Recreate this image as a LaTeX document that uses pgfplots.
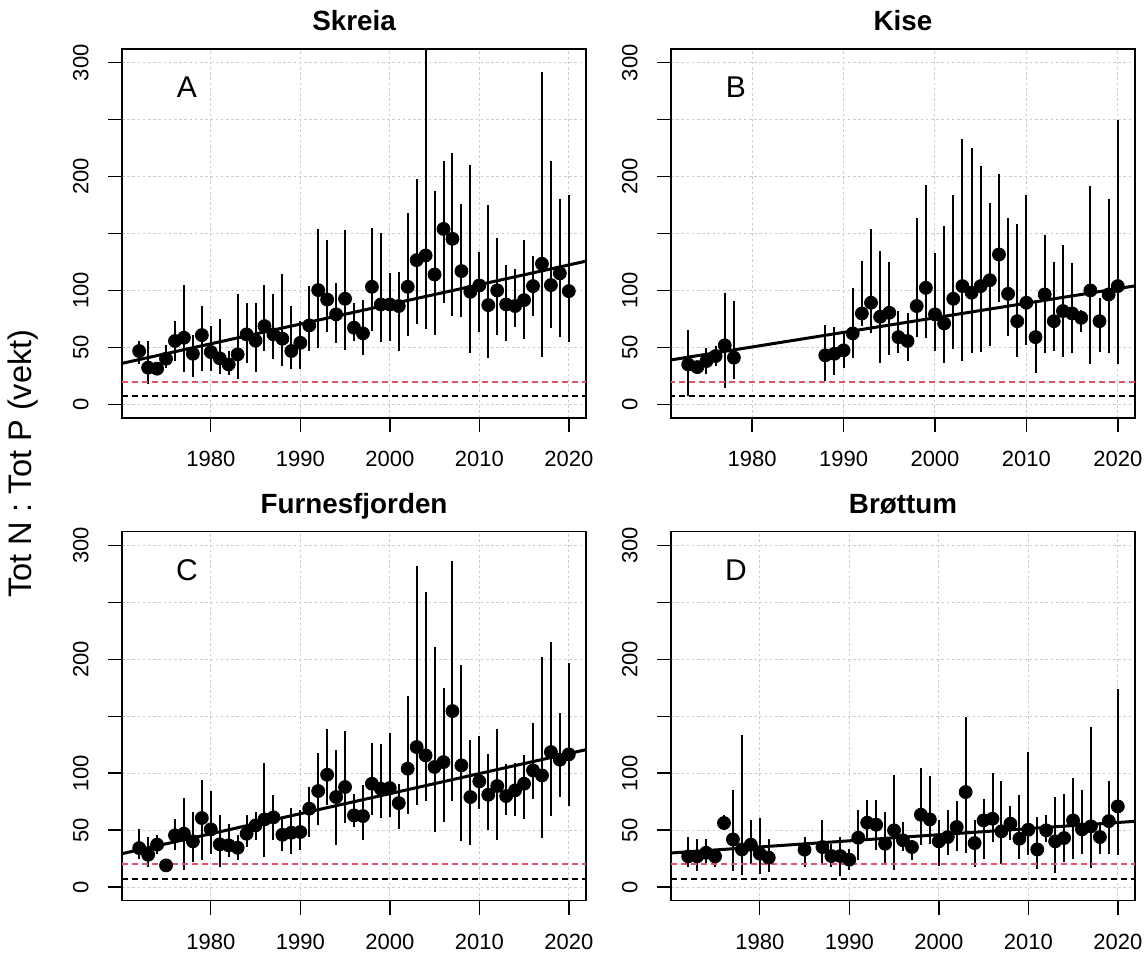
\documentclass[border=0pt]{standalone}
\usepackage{fontspec}
\setmainfont{Liberation Sans}
\usepackage{pgfplots}
\usepackage{pgfplotstable}
\pgfplotsset{compat=1.18}
\definecolor{rred}{HTML}{DF536B}

\pgfplotstableread{
yr v lo hi
1972 46.8 35 55.6
1973 32.2 17.5 55.6
1974 31.3 28 35
1975 40 32 51.8
1976 55.6 38 73
1977 58.5 28 105
1978 44.4 24 61
1979 60.8 29 86
1980 45.9 29 68.7
1981 40.4 27 74.6
1982 35 26 46.8
1983 43.9 22.5 96.5
1984 61.4 36.5 89
1985 56 28 89
1986 68.7 46.8 105
1987 61.4 40 96.5
1988 57.6 34 114
1989 46.8 30.7 86
1990 54 30.7 73
1991 69.3 46.8 104
1992 100.3 49.7 154
1993 92 63.5 144.7
1994 79 53.5 106.7
1995 92.7 48 153
1996 67.3 55.6 89
1997 62.3 43 92
1998 103.2 64.3 155
1999 87.7 54.7 150.6
2000 87.7 55.6 115.5
2001 86.3 46.8 116.4
2002 103.2 60 168
2003 126.6 70.8 198
2004 130.7 65.8 400
2005 114 60.5 187
2006 154 89 213.5
2007 145.3 77.5 220.8
2008 117 77 176
2009 98.8 44.7 210.5
2010 104.4 63.5 133.6
2011 87.1 41 174.9
2012 100 60.5 146
2013 87.7 55.6 122
2014 86.3 68 119
2015 91.5 57.6 143.9
2016 103.8 77.5 130
2017 123.4 41.5 292
2018 104.7 67.3 213.5
2019 115 59.4 180.4
2020 99.4 54.7 183.6
}\dataA

\pgfplotstableread{
yr v lo hi
1973 35 7.3 65
1974 32.7 30 35
1975 38 26.3 49.7
1976 42.4 33.6 51
1977 51.8 14.6 98
1978 41 22 90.6
1988 43 20.5 70
1989 44.4 25.4 68
1990 47.4 32 62.9
1991 62.3 41 102
1992 79.8 68.7 125.7
1993 89.2 62.9 154
1994 76.9 36 134.5
1995 80.4 43 124.9
1996 59 45 82
1997 55.6 38 80
1998 86.3 59 163.7
1999 102.3 58.5 193
2000 79 46.8 133
2001 71 36.5 157
2002 92.7 48.8 183.6
2003 103.8 38 233
2004 98 44.7 225
2005 103.8 46 209.6
2006 109 51 177
2007 131.6 89.8 202.6
2008 97 60 164
2009 73 41.5 158.5
2010 89.2 51.8 184
2011 59 27.8 89
2012 96.5 44.7 149
2013 73 46.8 125
2014 81.9 41.8 139.5
2015 79.8 45 124
2016 76 63.5 83
2017 100 35 192
2018 73 46 93.6
2019 96.5 45 180
2020 103.8 35 250
}\dataB

\pgfplotstableread{
yr v lo hi
1972 34.2 24.9 51.2
1973 28.4 17.6 43.9
1974 37.2 29.3 45.4
1975 19 19 19
1976 45.4 32.2 60
1977 46.8 14.6 78
1978 40.1 21.9 65.8
1979 60.6 23.4 93.6
1980 50.6 29.3 84
1981 37.5 17.6 62.9
1982 36.6 26.3 55.6
1983 34.5 23.4 45.4
1984 46.8 35.1 63.5
1985 54.1 41 65.8
1986 59.4 26.3 109
1987 61.2 41 81
1988 45.9 31.3 60
1989 47.7 29.3 69.4
1990 48.3 32.2 67.3
1991 68.8 43.9 87.8
1992 84.3 54.7 117.6
1993 98.6 72.3 138.4
1994 79 36.6 120
1995 87.8 56.5 137
1996 62.9 52.7 82
1997 62.3 41 89.3
1998 90.7 62.9 126.7
1999 86.3 60.6 125.8
2000 86.9 61.5 135.5
2001 73.7 50.6 90.7
2002 103.9 64.4 167.4
2003 122.9 72.3 281.8
2004 115.6 75.2 259
2005 105.4 48.3 210.7
2006 109.7 57 175
2007 154.5 75.2 285.9
2008 106.8 40 194.6
2009 79 37.2 128.8
2010 92.8 68.2 132.6
2011 81 49.8 117
2012 88.7 41.6 138.4
2013 79.9 62.9 108.3
2014 84.9 62.3 109.2
2015 90.7 60 115.6
2016 102.4 77.6 144.3
2017 98 43.3 201.9
2018 118.5 62.3 215
2019 111.8 79 152.8
2020 116.5 71.1 197
}\dataC

\pgfplotstableread{
yr v lo hi
1972 26.9 17.6 43.9
1973 26.9 13.8 41.8
1974 30.1 19 42.4
1975 26.9 17.6 32
1976 56.2 49.8 63
1977 41.8 13.8 85.5
1978 33 10.8 133.7
1979 37.2 20.5 58.5
1980 29.3 11.7 60.6
1981 25.8 13.2 42.4
1985 32.8 17.6 43.9
1987 35.1 20.5 58.5
1988 27.2 17.6 38
1989 27.2 9.4 43.9
1990 24 14.6 33.7
1991 43.3 23.4 67.3
1992 56.5 42.4 76
1993 54.7 32.2 76
1994 38 19 65.8
1995 49.8 14.6 98
1996 41 32 57
1997 35.1 23.4 41
1998 63.5 37.2 104.5
1999 59.4 38 97.5
2000 40.1 18.4 58.5
2001 43.9 27.8 67.9
2002 52.7 31.3 75.2
2003 83.4 30.1 149.3
2004 38.6 17.6 58.5
2005 58.5 24.9 77
2006 60 39.5 100.4
2007 48.9 20.5 92.8
2008 55.6 41 70.8
2009 42.4 24.9 81
2010 50.3 27.8 119
2011 33 16.1 61.5
2012 49.8 39.5 63.5
2013 40.1 12.6 79
2014 43 22 82
2015 58.5 24.9 95.7
2016 50.6 29.3 84.9
2017 53.3 16.7 140.5
2018 43.9 29.3 57
2019 57.9 29.3 92.8
2020 70.8 27.8 173.5
}\dataD

\pgfplotsset{
  panel/.style={
    scale only axis, width=232pt, height=184.5pt,
    anchor=south west,
    xmin=1970.08, xmax=2021.92,
    ymin=-12, ymax=312,
    axis line style={line width=0.7pt},
    every tick/.style={black, line width=0.7pt},
    tick align=outside, major tick length=7pt,
    xtick pos=lower, ytick pos=left,
    xtick={1980,1990,2000,2010,2020},
    xticklabels={1980,1990,2000,2010,2020},
    ytick={0,50,100,150,200,250,300},
    yticklabels={0,50,100,,200,,300},
    xticklabel style={font=\fontsize{11}{13}\selectfont, anchor=north, inner sep=0pt},
    yticklabel style={font=\fontsize{11}{13}\selectfont, rotate=90, anchor=south, inner sep=0pt},
    xticklabel shift=9.5pt,
    yticklabel shift=9.5pt,
    grid=major,
    grid style={gray!40, dash pattern=on 1.3pt off 1.3pt, line width=0.5pt},
    title style={font=\bfseries\fontsize{13.9}{16}\selectfont, at={(0.5,1)}, anchor=base, yshift=3.2pt},
  },
  pts/.style={black, only marks, mark=*, mark size=3.25pt,
    error bars/.cd, y dir=both, y explicit, error mark=none,
    error bar style={line width=1pt, black}},
}

\newcommand{\panelbody}[6]{%
  \addplot[pts] table[x=yr, y=v, y error plus expr=\thisrow{hi}-\thisrow{v}, y error minus expr=\thisrow{v}-\thisrow{lo}] {#1};
  \addplot[black, line width=1.5pt] coordinates {(#2,#3) (#4,#5)};
  \addplot[rred, line width=0.95pt, dash pattern=on 3pt off 2pt] coordinates {(1960,20) (2030,20)};
  \addplot[black, line width=0.7pt, dash pattern=on 3pt off 2pt] coordinates {(1960,7.2) (2030,7.2)};
  \node[font=\fontsize{15}{18}\selectfont] at (rel axis cs:0.14,0.896) {#6};
}

\begin{document}
\begin{tikzpicture}
\useasboundingbox (0,0) rectangle (574pt,477.5pt);

\begin{axis}[panel, at={(61pt,268.5pt)}, title={Skreia}]
\panelbody{\dataA}{1970.08}{36}{2021.92}{125.7}{A}
\end{axis}

\begin{axis}[panel, at={(335.5pt,268.5pt)}, title={Kise}, xmin=1971.12, xmax=2021.88]
\panelbody{\dataB}{1971.12}{39}{2021.88}{104}{B}
\end{axis}

\begin{axis}[panel, at={(61pt,27.15pt)}, title={Furnesfjorden}]
\panelbody{\dataC}{1970.08}{29.3}{2021.92}{120.6}{C}
\end{axis}

\begin{axis}[panel, at={(335.5pt,27.15pt)}, title={Brøttum}]
\panelbody{\dataD}{1970.08}{29.9}{2021.92}{57.7}{D}
\end{axis}

\node[rotate=90, anchor=base, font=\fontsize{16.3}{19}\selectfont] at (15.8pt,245.75pt) {Tot N : Tot P (vekt)};
\end{tikzpicture}
\end{document}
